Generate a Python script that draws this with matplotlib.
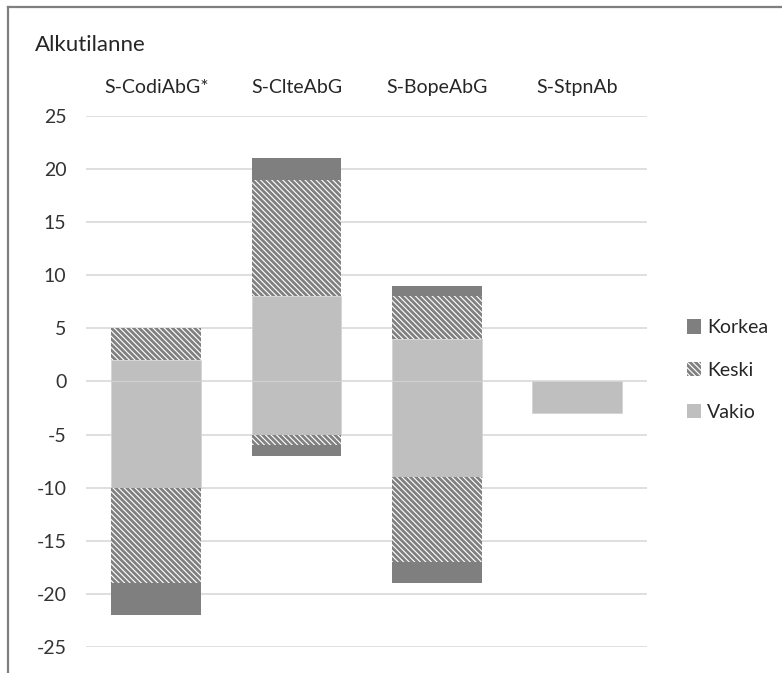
import numpy as np
import matplotlib.pyplot as plt
from matplotlib.lines import Line2D

plt.rcParams['font.family'] = ['Lato', 'DejaVu Sans']
plt.rcParams['hatch.linewidth'] = 2.0

kohteet = ['S-CodiAbG*', 'S-ClteAbG', 'S-BopeAbG', 'S-StpnAb']

# positiiviset ja negatiiviset osuudet erikseen, pinotaan nollasta poispäin
vakio_pos = [2, 8, 4, 0]
vakio_neg = [-10, -5, -9, -3]
keski_pos = [3, 11, 4, 0]
keski_neg = [-9, -1, -8, 0]
korkea_pos = [0, 2, 1, 0]
korkea_neg = [-3, -1, -2, 0]

yticks = [25, 20, 15, 10, 5, 0, -5, -10, -15, -20, -25]

tyylit = {
    'Vakio': dict(color='#bfbfbf', edgecolor='#d4d4d4', linewidth=0.6),
    'Keski': dict(color='white', edgecolor='#808080', linewidth=0, hatch='\\\\\\\\\\\\'),
    'Korkea': dict(color='#7f7f7f', edgecolor='#7f7f7f', linewidth=0),
}

fig = plt.figure(figsize=(7.82, 6.73), dpi=100)
ax = fig.add_axes([0.110, 0.0386, 0.7176, 0.7894])

x = np.arange(len(kohteet))
leveys = 0.64
ala_pos = np.zeros(len(kohteet))
ala_neg = np.zeros(len(kohteet))
for nimi, pos, neg in [('Vakio', vakio_pos, vakio_neg),
                       ('Keski', keski_pos, keski_neg),
                       ('Korkea', korkea_pos, korkea_neg)]:
    pos = np.array(pos, dtype=float)
    neg = np.array(neg, dtype=float)
    # nollan korkuisia palkkeja ei piirretä
    mp = pos != 0
    mn = neg != 0
    ax.bar(x[mp], pos[mp], leveys, bottom=ala_pos[mp], zorder=2, **tyylit[nimi])
    ax.bar(x[mn], neg[mn], leveys, bottom=ala_neg[mn], zorder=2, **tyylit[nimi])
    ala_pos += pos
    ala_neg += neg

ax.set_xlim(-0.5, len(kohteet) - 0.5)
ax.set_ylim(-25, 25)
ax.set_yticks(yticks)
ax.set_yticklabels([str(v) for v in yticks], fontsize=14, color='#333333')
ax.set_xticks([])
ax.tick_params(axis='y', length=0, pad=14)
ax.grid(axis='y', color='#d9d9d9', linewidth=1.2, zorder=0)
ax.set_axisbelow(True)
for s in ax.spines.values():
    s.set_visible(False)

# luokkien nimet kaavion yläpuolella
for i, k in enumerate(kohteet):
    ax.text(i, 1.054, k, transform=ax.get_xaxis_transform(),
            ha='center', va='center', fontsize=14, color='#262626')

fig.text(0.045, 0.933, 'Alkutilanne', fontsize=16, color='#262626',
         ha='left', va='center')

# kehys vasemmalle ja ylös
fig.add_artist(Line2D([0.0105, 0.0105], [0.0, 0.989], transform=fig.transFigure,
                      color='#7f7f7f', linewidth=1.6))
fig.add_artist(Line2D([0.0105, 1.0], [0.989, 0.989], transform=fig.transFigure,
                      color='#7f7f7f', linewidth=1.6))

kahvat = [plt.Rectangle((0, 0), 1, 1, facecolor=tyylit[n]['color'],
                        edgecolor=tyylit[n]['edgecolor'], linewidth=0,
                        hatch=tyylit[n].get('hatch'))
          for n in ['Korkea', 'Keski', 'Vakio']]
fig.legend(kahvat, ['Korkea', 'Keski', 'Vakio'], loc='center left',
           bbox_to_anchor=(0.856, 0.45), frameon=False, fontsize=14,
           handlelength=0.75, handleheight=0.75, handletextpad=0.3,
           labelspacing=1.3, labelcolor='#262626')

fig.savefig('out.png', dpi=100)
